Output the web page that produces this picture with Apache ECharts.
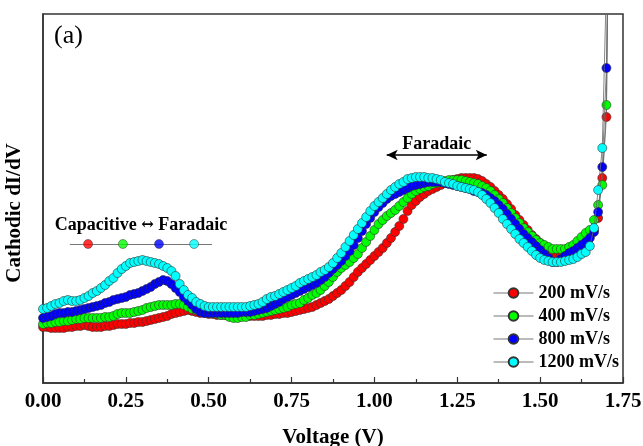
<!DOCTYPE html>
<html style="height: 100%">
<head>
<meta charset="utf-8">
<script src="https://cdn.jsdelivr.net/npm/echarts@6/dist/echarts.min.js"></script>
</head>
<body style="height: 100%; margin: 0; background: #fff">
<div id="container" style="width: 643px; height: 446px"></div>
<script type="text/javascript">
// sampling grid of the sweep (V), last point lies off the top of the plot
var step = 0.0125;
var voltage = [];
for (var i = 0; i <= 136; i++) voltage.push(+(i * step).toFixed(4));
voltage.push(1.704);

var xTicks = [0, 0.25, 0.5, 0.75, 1.0, 1.25, 1.5, 1.75];
var rateNames = ['200 mV/s', '400 mV/s', '800 mV/s', '1200 mV/s'];
var rateColors = ['#ff0000', '#00ff00', '#0000ff', '#00ffff'];

// cathodic dI/dV, arbitrary units
var r200 = [5.6,5.6,5.5,5.5,5.5,5.5,5.6,5.6,5.7,5.7,
  5.8,5.7,5.6,5.6,5.6,5.7,5.7,5.8,5.9,5.9,
  5.9,6.0,6.0,6.1,6.1,6.2,6.3,6.4,6.5,6.6,
  6.7,6.9,7.0,7.1,7.2,7.3,7.2,7.1,7.0,7.0,
  6.9,6.9,6.8,6.8,6.8,6.7,6.7,6.7,6.7,6.7,
  6.7,6.7,6.7,6.7,6.8,6.8,6.9,6.9,7.0,7.0,
  7.1,7.2,7.3,7.4,7.5,7.6,7.8,8.0,8.2,8.4,
  8.7,9.0,9.3,9.7,10.1,10.6,11.1,11.5,11.9,12.3,
  12.7,13.1,13.5,14.0,14.5,15.1,15.7,16.4,17.2,17.8,
  18.2,18.6,18.9,19.2,19.4,19.6,19.8,20.0,20.1,20.3,
  20.4,20.5,20.5,20.5,20.5,20.4,20.2,19.9,19.6,19.2,
  18.8,18.4,17.9,17.4,16.8,16.3,15.8,15.3,14.8,14.4,
  14.0,13.6,13.3,13.0,12.8,12.8,12.9,13.0,13.2,13.5,
  13.9,14.3,14.7,15.3,16.5,20.5,26.6,40];

var r400 = [5.9,6.0,6.0,6.1,6.1,6.2,6.2,6.3,6.4,6.4,
  6.5,6.5,6.5,6.5,6.5,6.6,6.6,6.7,6.9,7.0,
  7.0,7.0,7.1,7.2,7.3,7.5,7.6,7.7,7.8,7.8,
  7.8,7.8,7.9,7.9,7.8,7.6,7.4,7.3,7.2,7.1,
  7.0,7.0,6.9,6.8,6.8,6.6,6.5,6.5,6.6,6.6,
  6.8,6.8,6.9,7.0,7.1,7.2,7.3,7.4,7.5,7.6,
  7.8,7.9,8.0,8.3,8.5,8.8,9.0,9.3,9.7,10.1,
  10.6,11.1,11.5,11.8,12.1,12.5,12.9,13.5,14.1,14.7,
  15.3,15.9,16.3,16.7,17.0,17.3,17.7,18.1,18.5,18.9,
  19.2,19.4,19.6,19.7,19.9,20.0,20.1,20.2,20.3,20.3,
  20.3,20.3,20.2,20.1,20.0,19.9,19.7,19.5,19.2,18.8,
  18.4,18.0,17.5,17.0,16.5,16.0,15.5,15.1,14.7,14.3,
  14.0,13.8,13.6,13.4,13.4,13.4,13.4,13.6,13.8,14.2,
  14.6,15.0,15.3,16.3,17.8,19.8,27.8,40];

var r800 = [6.5,6.6,6.7,6.9,7.0,7.0,7.1,7.1,7.2,7.3,
  7.4,7.5,7.6,7.7,7.8,8.0,8.1,8.3,8.4,8.5,
  8.6,8.8,8.9,9.0,9.2,9.4,9.6,9.9,10.1,10.3,
  10.2,9.9,9.5,9.1,8.6,8.2,7.8,7.4,7.1,7.0,
  7.0,7.0,7.0,7.0,7.0,7.0,7.0,7.0,7.1,7.1,
  7.1,7.2,7.3,7.4,7.5,7.7,7.9,8.1,8.4,8.6,
  8.8,9.0,9.2,9.4,9.6,9.8,10.0,10.3,10.6,11.0,
  11.4,11.8,12.2,12.7,13.2,13.8,14.5,15.2,15.9,16.5,
  17.1,17.6,18.0,18.4,18.7,18.9,19.1,19.3,19.5,19.7,
  19.8,19.9,20.0,20.1,20.1,20.1,20.1,20.0,19.9,19.8,
  19.7,19.6,19.5,19.4,19.2,19.1,19.0,18.8,18.5,18.2,
  17.8,17.4,16.9,16.4,15.9,15.4,14.9,14.5,14.1,13.7,
  13.3,12.9,12.5,12.1,12.1,12.4,12.7,13.0,13.2,13.5,
  13.8,14.1,14.5,15.1,17.1,21.6,31.5,40];

var r1200 = [7.4,7.5,7.7,7.9,8.0,8.2,8.3,8.2,8.2,8.3,
  8.5,8.7,9.0,9.2,9.5,9.8,10.2,10.5,11.0,11.4,
  11.7,12.0,12.1,12.2,12.3,12.2,12.1,12.0,11.9,11.7,
  11.5,11.2,10.7,9.9,9.3,8.8,8.5,8.1,7.9,7.7,
  7.6,7.6,7.6,7.6,7.6,7.6,7.6,7.6,7.6,7.6,
  7.7,7.8,7.9,8.1,8.4,8.6,8.7,8.9,9.1,9.3,
  9.5,9.7,10.0,10.2,10.4,10.6,10.8,11.1,11.3,11.6,
  12.0,12.5,13.0,13.6,14.2,14.8,15.4,16.0,16.6,17.2,
  17.7,18.1,18.5,18.9,19.3,19.6,19.9,20.1,20.4,20.5,
  20.6,20.6,20.6,20.5,20.5,20.4,20.3,20.1,20.0,19.9,
  19.7,19.6,19.5,19.4,19.3,19.1,18.8,18.4,18.0,17.5,
  17.0,16.4,15.9,15.4,14.9,14.4,14.0,13.6,13.2,12.8,
  12.5,12.3,12.2,12.1,12.1,12.1,12.2,12.3,12.4,12.6,
  12.9,13.1,13.7,15.5,19.3,23.5,40,45];

var rateValues = [r200, r400, r800, r1200];

// annotation: sequence of rates below "Capacitive <-> Faradaic"
var noteX = [0.136, 0.241, 0.350, 0.456];
var noteY = 13.9;

var font = '"Liberation Serif", "Times New Roman", serif';
var dom = document.getElementById('container');
var myChart = echarts.init(dom);

var series = rateNames.map(function (name, k) {
    return {
        name: name,
        type: 'line',
        data: voltage.map(function (v, i) { return [v, rateValues[k][i]]; }),
        symbol: 'circle',
        symbolSize: 9,
        showAllSymbol: true,
        clip: true,
        itemStyle: { color: rateColors[k], borderColor: '#333', borderWidth: 0.6 },
        lineStyle: { color: '#666', width: 0.8 },
        z: 2 + k
    };
});

series[0].markLine = {
    silent: true,
    symbol: ['arrow', 'arrow'],
    symbolSize: [8, 11],
    lineStyle: { color: '#000', width: 1.5, type: 'solid' },
    label: {
        show: true, position: 'insideMiddleTop', distance: 2,
        formatter: 'Faradaic', color: '#000',
        fontFamily: font, fontWeight: 'bold', fontSize: 18
    },
    data: [[{ coord: [1.037, 22.8] }, { coord: [1.339, 22.8] }]]
};

series.push({
    name: 'note',
    type: 'scatter',
    symbol: 'circle',
    symbolSize: 9,
    z: 10,
    data: noteX.map(function (v, k) {
        return { value: [v, noteY], itemStyle: { color: rateColors[k], borderColor: '#333', borderWidth: 0.6 } };
    }),
    markLine: {
        silent: true,
        symbol: 'none',
        lineStyle: { color: '#777', width: 1, type: 'solid' },
        label: {
            show: true, position: 'insideMiddleTop', distance: 10,
            formatter: 'Capacitive {arr|\u2194} Faradaic', color: '#000',
            fontFamily: font, fontWeight: 'bold', fontSize: 18,
            rich: { arr: { fontFamily: '"DejaVu Serif"', fontSize: 15, color: '#000' } }
        },
        data: [[{ coord: [0.081, noteY] }, { coord: [0.51, noteY] }]]
    }
});

var option = {
    animation: false,
    backgroundColor: '#fff',
    title: {
        text: '(a)', left: 49, top: 18,
        textStyle: { fontFamily: font, fontWeight: 'normal', fontSize: 26, color: '#000' }
    },
    grid: {
        left: 43, right: 20, top: 14, bottom: 63,
        outerBoundsMode: 'none',
        containLabel: false,
        show: true, borderColor: '#333', borderWidth: 1.5
    },
    legend: {
        data: rateNames,
        orient: 'vertical',
        left: 488, top: 279,
        itemWidth: 40, itemHeight: 12, itemGap: 5,
        lineStyle: { width: 1, color: '#777' },
        textStyle: { fontFamily: font, fontWeight: 'bold', fontSize: 18, color: '#000' }
    },
    xAxis: {
        type: 'value',
        min: 0, max: 1.75, interval: 0.25,
        name: 'Voltage (V)', nameLocation: 'middle', nameGap: 44,
        nameTextStyle: { fontFamily: font, fontWeight: 'bold', fontSize: 21, color: '#000' },
        axisLine: { lineStyle: { color: '#333', width: 1.5 } },
        axisTick: { inside: true, length: 6, lineStyle: { color: '#333', width: 1.2 } },
        minorTick: { show: true, splitNumber: 2, length: 4, lineStyle: { color: '#333', width: 1.2 } },
        splitLine: { show: false },
        axisLabel: {
            margin: 8, color: '#000', fontFamily: font, fontWeight: 'bold', fontSize: 21,
            formatter: function (v) { return xTicks.indexOf(v) >= 0 ? v.toFixed(2) : ''; }
        }
    },
    yAxis: {
        type: 'value',
        min: 0, max: 36.9,
        axisLine: { show: true, lineStyle: { color: '#333', width: 1.5 } },
        axisTick: { show: false },
        axisLabel: { show: false },
        splitLine: { show: false }
    },
    graphic: [{
        type: 'text',
        x: 15, y: 213,
        rotation: Math.PI / 2,
        style: {
            text: 'Cathodic dI/dV',
            font: 'bold 21px ' + font,
            fill: '#000', align: 'center', verticalAlign: 'middle'
        }
    }],
    series: series
};

myChart.setOption(option);
</script>
</body>
</html>
